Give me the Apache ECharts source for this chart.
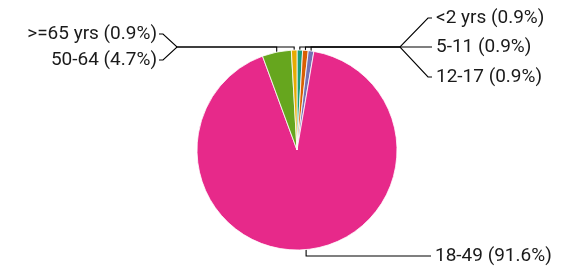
<!DOCTYPE html>
<html>
<head>
<meta charset="utf-8">
<script src="https://cdn.jsdelivr.net/npm/echarts@6/dist/echarts.min.js"></script>
<style>
  html, body { margin: 0; padding: 0; background: #fff; }
  #chart { width: 571px; height: 274px; }
</style>
</head>
<body>
<div id="chart"></div>
<script>
// age groups, clockwise from 12 o'clock
const categories = ['<2 yrs', '5-11', '12-17', '18-49', '50-64', '>=65 yrs'];
const percents = [0.9, 0.9, 0.9, 91.6, 4.7, 0.9];
const colors = ['#1b9e77', '#d95f02', '#7570b3', '#e7298a', '#66a61e', '#e6ab02'];

// where each label sits (layout only)
const labelSpots = [
    {side: 'right', x: 436, y: 18},
    {side: 'right', x: 436, y: 47},
    {side: 'right', x: 436, y: 77},
    {side: 'bottom', x: 435, y: 256},
    {side: 'left', x: 157, y: 60},
    {side: 'left', x: 157, y: 34}
];

const chart = echarts.init(document.getElementById('chart'), null, { renderer: 'canvas' });

chart.setOption({
    animation: false,
    color: colors,
    series: [{
        type: 'pie',
        center: [297, 150],
        radius: [0, 100],
        startAngle: 90,
        clockwise: true,
        avoidLabelOverlap: false,
        data: categories.map((c, i) => ({name: c, value: percents[i]})),
        itemStyle: {borderColor: '#fff', borderWidth: 0.8},
        emphasis: {disabled: true},
        label: {
            show: true,
            formatter: '{b} ({c}%)',
            fontFamily: 'Roboto',
            fontSize: 19,
            color: '#1a1a1a'
        },
        labelLine: {show: true, smooth: false, lineStyle: {color: '#000', width: 1.1}},
        labelLayout: function (p) {
            const s = labelSpots[p.dataIndex];
            const a = p.labelLinePoints[0];
            let pts;
            if (s.side === 'bottom') {
                pts = [a, [a[0], s.y], [s.x - 4, s.y]];
            } else if (s.side === 'left') {
                pts = [a, [a[0], 47], [177, 47], [s.x + 6, s.y], [s.x + 2, s.y]];
            } else {
                pts = [a, [a[0], 47], [400, 47], [s.x - 8, s.y], [s.x - 4, s.y]];
            }
            return {
                x: s.x,
                y: s.y,
                align: s.side === 'left' ? 'right' : 'left',
                verticalAlign: 'middle',
                labelLinePoints: pts
            };
        }
    }]
});
</script>
</body>
</html>
